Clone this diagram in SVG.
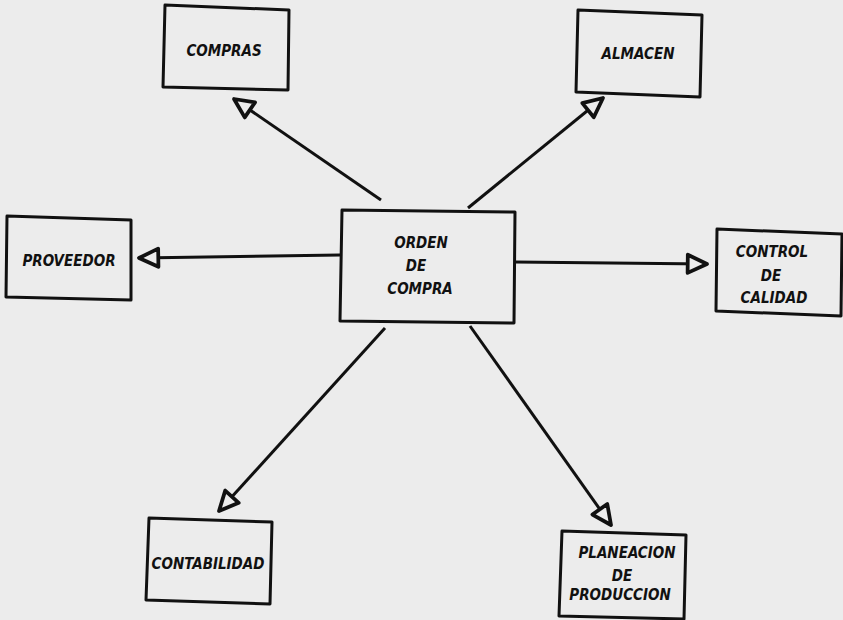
<svg xmlns="http://www.w3.org/2000/svg" width="843" height="620" viewBox="0 0 843 620">
  <style>
    .box { fill: #ececec; stroke: #111; stroke-width: 3; stroke-linejoin: round; }
    .lbl { font-family: "DejaVu Sans Condensed", "DejaVu Sans", "Liberation Sans", sans-serif; font-style: italic; font-weight: bold; font-size: 15px; fill: #111; text-anchor: middle; font-stretch: condensed; }
    .edge { stroke: #111; stroke-width: 3; fill: none; marker-end: url(#open); }
  </style>
  <defs>
    <marker id="open" markerUnits="userSpaceOnUse" markerWidth="30" markerHeight="30" viewBox="-24 -13 28 26" refX="0" refY="0" orient="auto">
      <path d="M0,0 L-18,-8.5 L-18,8.5 Z" fill="#ececec" stroke="#111" stroke-width="3.5" stroke-linejoin="round"/>
    </marker>
  </defs>
  <rect width="843" height="620" fill="#ececec"/>

  <g id="connectors">
    <line class="edge" x1="381" y1="200" x2="234" y2="99"/>
    <line class="edge" x1="468" y1="208" x2="603" y2="98"/>
    <line class="edge" x1="340" y1="255" x2="139" y2="258"/>
    <line class="edge" x1="515" y1="262" x2="707" y2="264"/>
    <line class="edge" x1="385" y1="328" x2="219" y2="511"/>
    <line class="edge" x1="470" y1="326" x2="611" y2="525"/>
  </g>

  <g id="compras">
    <path class="box" d="M165,5 L289,10 L288,90 L163,87 Z"/>
    <text class="lbl" x="224" y="56">COMPRAS</text>
  </g>
  <g id="almacen">
    <path class="box" d="M578,10 L702,15 L700,97 L576,92 Z"/>
    <text class="lbl" x="638" y="59">ALMACEN</text>
  </g>
  <g id="proveedor">
    <path class="box" d="M7,216 L131,220 L131,300 L6,297 Z"/>
    <text class="lbl" x="69" y="266">PROVEEDOR</text>
  </g>
  <g id="orden-de-compra">
    <path class="box" d="M342,210 L515,212 L514,323 L340,321 Z"/>
    <text class="lbl" x="421" y="248">ORDEN</text>
    <text class="lbl" x="416" y="271">DE</text>
    <text class="lbl" x="420" y="294">COMPRA</text>
  </g>
  <g id="control-de-calidad">
    <path class="box" d="M717,229 L842,234 L841,316 L716,311 Z"/>
    <text class="lbl" x="772" y="257">CONTROL</text>
    <text class="lbl" x="771" y="281">DE</text>
    <text class="lbl" x="774" y="303">CALIDAD</text>
  </g>
  <g id="contabilidad">
    <path class="box" d="M149,518 L272,522 L270,604 L146,600 Z"/>
    <text class="lbl" x="208" y="569">CONTABILIDAD</text>
  </g>
  <g id="planeacion-de-produccion">
    <path class="box" d="M562,531 L686,535 L684,619 L559,616 Z"/>
    <text class="lbl" x="627" y="558">PLANEACION</text>
    <text class="lbl" x="622" y="581">DE</text>
    <text class="lbl" x="620" y="600">PRODUCCION</text>
  </g>
</svg>
